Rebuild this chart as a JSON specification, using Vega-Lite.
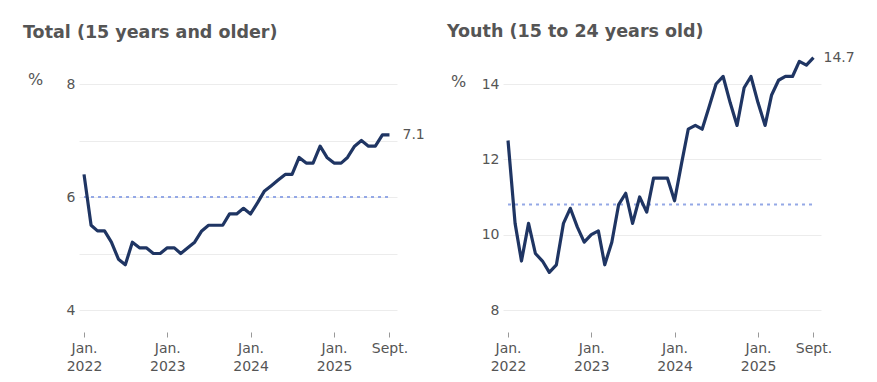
{
  "$schema": "https://vega.github.io/schema/vega-lite/v6.json",
  "background": "white",
  "padding": {"left": 23, "top": 23, "right": 10, "bottom": 5},
  "bounds": "flush",
  "spacing": 106,
  "config": {
    "font": "DejaVu Sans",
    "view": {"stroke": null},
    "axis": {"labelFont": "DejaVu Sans", "labelColor": "#555", "labelFontSize": 14, "titleFont": "DejaVu Sans", "titleColor": "#555", "titleFontWeight": "normal"},
    "title": {"font": "DejaVu Sans", "fontSize": 17.5, "fontWeight": "bold", "color": "#555", "anchor": "start", "frame": "group"}
  },
  "datasets": {
    "total": [
      {"date": "2022-01", "rate": 6.4}, {"date": "2022-02", "rate": 5.5}, {"date": "2022-03", "rate": 5.4}, {"date": "2022-04", "rate": 5.4},
      {"date": "2022-05", "rate": 5.2}, {"date": "2022-06", "rate": 4.9}, {"date": "2022-07", "rate": 4.8}, {"date": "2022-08", "rate": 5.2},
      {"date": "2022-09", "rate": 5.1}, {"date": "2022-10", "rate": 5.1}, {"date": "2022-11", "rate": 5.0}, {"date": "2022-12", "rate": 5.0},
      {"date": "2023-01", "rate": 5.1}, {"date": "2023-02", "rate": 5.1}, {"date": "2023-03", "rate": 5.0}, {"date": "2023-04", "rate": 5.1},
      {"date": "2023-05", "rate": 5.2}, {"date": "2023-06", "rate": 5.4}, {"date": "2023-07", "rate": 5.5}, {"date": "2023-08", "rate": 5.5},
      {"date": "2023-09", "rate": 5.5}, {"date": "2023-10", "rate": 5.7}, {"date": "2023-11", "rate": 5.7}, {"date": "2023-12", "rate": 5.8},
      {"date": "2024-01", "rate": 5.7}, {"date": "2024-02", "rate": 5.9}, {"date": "2024-03", "rate": 6.1}, {"date": "2024-04", "rate": 6.2},
      {"date": "2024-05", "rate": 6.3}, {"date": "2024-06", "rate": 6.4}, {"date": "2024-07", "rate": 6.4}, {"date": "2024-08", "rate": 6.7},
      {"date": "2024-09", "rate": 6.6}, {"date": "2024-10", "rate": 6.6}, {"date": "2024-11", "rate": 6.9}, {"date": "2024-12", "rate": 6.7},
      {"date": "2025-01", "rate": 6.6}, {"date": "2025-02", "rate": 6.6}, {"date": "2025-03", "rate": 6.7}, {"date": "2025-04", "rate": 6.9},
      {"date": "2025-05", "rate": 7.0}, {"date": "2025-06", "rate": 6.9}, {"date": "2025-07", "rate": 6.9}, {"date": "2025-08", "rate": 7.1},
      {"date": "2025-09", "rate": 7.1}
    ],
    "youth": [
      {"date": "2022-01", "rate": 12.5}, {"date": "2022-02", "rate": 10.3}, {"date": "2022-03", "rate": 9.3}, {"date": "2022-04", "rate": 10.3},
      {"date": "2022-05", "rate": 9.5}, {"date": "2022-06", "rate": 9.3}, {"date": "2022-07", "rate": 9.0}, {"date": "2022-08", "rate": 9.2},
      {"date": "2022-09", "rate": 10.3}, {"date": "2022-10", "rate": 10.7}, {"date": "2022-11", "rate": 10.2}, {"date": "2022-12", "rate": 9.8},
      {"date": "2023-01", "rate": 10.0}, {"date": "2023-02", "rate": 10.1}, {"date": "2023-03", "rate": 9.2}, {"date": "2023-04", "rate": 9.8},
      {"date": "2023-05", "rate": 10.8}, {"date": "2023-06", "rate": 11.1}, {"date": "2023-07", "rate": 10.3}, {"date": "2023-08", "rate": 11.0},
      {"date": "2023-09", "rate": 10.6}, {"date": "2023-10", "rate": 11.5}, {"date": "2023-11", "rate": 11.5}, {"date": "2023-12", "rate": 11.5},
      {"date": "2024-01", "rate": 10.9}, {"date": "2024-02", "rate": 11.9}, {"date": "2024-03", "rate": 12.8}, {"date": "2024-04", "rate": 12.9},
      {"date": "2024-05", "rate": 12.8}, {"date": "2024-06", "rate": 13.4}, {"date": "2024-07", "rate": 14.0}, {"date": "2024-08", "rate": 14.2},
      {"date": "2024-09", "rate": 13.5}, {"date": "2024-10", "rate": 12.9}, {"date": "2024-11", "rate": 13.9}, {"date": "2024-12", "rate": 14.2},
      {"date": "2025-01", "rate": 13.5}, {"date": "2025-02", "rate": 12.9}, {"date": "2025-03", "rate": 13.7}, {"date": "2025-04", "rate": 14.1},
      {"date": "2025-05", "rate": 14.2}, {"date": "2025-06", "rate": 14.2}, {"date": "2025-07", "rate": 14.6}, {"date": "2025-08", "rate": 14.5},
      {"date": "2025-09", "rate": 14.7}
    ]
  },
  "hconcat": [
    {
      "width": 318,
      "height": 226,
      "title": {"text": "Total (15 years and older)", "dx": -56, "dy": -26},
      "data": {"name": "total"},
      "layer": [
        {
          "data": {"values": [{"start": "2022-01", "end": "2025-09", "value": 6.0}]},
          "mark": {"type": "rule", "strokeDash": [3, 4], "strokeWidth": 2, "color": "#94a8e6"},
          "encoding": {
            "x": {"field": "start", "type": "temporal"},
            "x2": {"field": "end"},
            "y": {"field": "value", "type": "quantitative"}
          }
        },
        {
          "mark": {"type": "line", "color": "#1f3563", "strokeWidth": 3.2, "strokeJoin": "round"},
          "encoding": {
            "x": {
              "field": "date", "type": "temporal",
              "scale": {"type": "utc", "domain": [{"year": 2021, "month": 12, "date": 10, "utc": true}, {"year": 2025, "month": 10, "date": 4, "utc": true}]},
              "axis": {
                "title": null, "grid": false, "domain": false, "offset": 22, "tickSize": 5, "tickColor": "#999",
                "labelPadding": 4, "labelLineHeight": 18, "labelBaseline": "top", "labelFlush": false, "labelOverlap": false,
                "values": [
                  {"year": 2022, "month": 1, "date": 1, "utc": true}, {"year": 2023, "month": 1, "date": 1, "utc": true},
                  {"year": 2024, "month": 1, "date": 1, "utc": true}, {"year": 2025, "month": 1, "date": 1, "utc": true},
                  {"year": 2025, "month": 9, "date": 1, "utc": true}
                ],
                "labelExpr": "utcFormat(datum.value, '%m') == '01' ? ['Jan.', utcFormat(datum.value, '%Y')] : 'Sept.'"
              }
            },
            "y": {
              "field": "rate", "type": "quantitative",
              "scale": {"domain": [4, 8], "nice": false, "zero": false},
              "axis": {
                "title": "%", "titleAngle": 0, "titleX": -44, "titleY": -5, "titleAlign": "center", "titleBaseline": "middle", "titleFontSize": 16,
                "values": [4, 5, 6, 7, 8], "format": "d", "labelExpr": "datum.value % 2 == 0 ? format(datum.value, 'd') : ''",
                "domain": false, "ticks": false, "labelPadding": 4, "gridColor": "#ececec"
              }
            }
          }
        },
        {
          "transform": [{"filter": "time(datum.date) >= utc(2025, 8, 1)"}],
          "mark": {"type": "text", "align": "left", "baseline": "middle", "dx": 13, "fontSize": 14, "color": "#555"},
          "encoding": {
            "x": {"field": "date", "type": "temporal"},
            "y": {"field": "rate", "type": "quantitative"},
            "text": {"field": "rate", "type": "quantitative", "format": ".1f"}
          }
        }
      ]
    },
    {
      "width": 318,
      "height": 226,
      "title": {"text": "Youth (15 to 24 years old)", "dx": -56, "dy": -6},
      "data": {"name": "youth"},
      "layer": [
        {
          "data": {"values": [{"start": "2022-01", "end": "2025-09", "value": 10.8}]},
          "mark": {"type": "rule", "strokeDash": [3, 4], "strokeWidth": 2, "color": "#94a8e6"},
          "encoding": {
            "x": {"field": "start", "type": "temporal"},
            "x2": {"field": "end"},
            "y": {"field": "value", "type": "quantitative"}
          }
        },
        {
          "mark": {"type": "line", "color": "#1f3563", "strokeWidth": 3.2, "strokeJoin": "round"},
          "encoding": {
            "x": {
              "field": "date", "type": "temporal",
              "scale": {"type": "utc", "domain": [{"year": 2021, "month": 12, "date": 10, "utc": true}, {"year": 2025, "month": 10, "date": 4, "utc": true}]},
              "axis": {
                "title": null, "grid": false, "domain": false, "offset": 22, "tickSize": 5, "tickColor": "#999",
                "labelPadding": 4, "labelLineHeight": 18, "labelBaseline": "top", "labelFlush": false, "labelOverlap": false,
                "values": [
                  {"year": 2022, "month": 1, "date": 1, "utc": true}, {"year": 2023, "month": 1, "date": 1, "utc": true},
                  {"year": 2024, "month": 1, "date": 1, "utc": true}, {"year": 2025, "month": 1, "date": 1, "utc": true},
                  {"year": 2025, "month": 9, "date": 1, "utc": true}
                ],
                "labelExpr": "utcFormat(datum.value, '%m') == '01' ? ['Jan.', utcFormat(datum.value, '%Y')] : 'Sept.'"
              }
            },
            "y": {
              "field": "rate", "type": "quantitative",
              "scale": {"domain": [8, 14], "nice": false, "zero": false},
              "axis": {
                "title": "%", "titleAngle": 0, "titleX": -45, "titleY": -3, "titleAlign": "center", "titleBaseline": "middle", "titleFontSize": 16,
                "values": [8, 9, 10, 11, 12, 13, 14], "format": "d", "labelExpr": "datum.value % 2 == 0 ? format(datum.value, 'd') : ''",
                "domain": false, "ticks": false, "labelPadding": 4, "gridColor": "#ececec"
              }
            }
          }
        },
        {
          "transform": [{"filter": "time(datum.date) >= utc(2025, 8, 1)"}],
          "mark": {"type": "text", "align": "left", "baseline": "middle", "dx": 10, "fontSize": 14, "color": "#555"},
          "encoding": {
            "x": {"field": "date", "type": "temporal"},
            "y": {"field": "rate", "type": "quantitative"},
            "text": {"field": "rate", "type": "quantitative", "format": ".1f"}
          }
        }
      ]
    }
  ]
}
